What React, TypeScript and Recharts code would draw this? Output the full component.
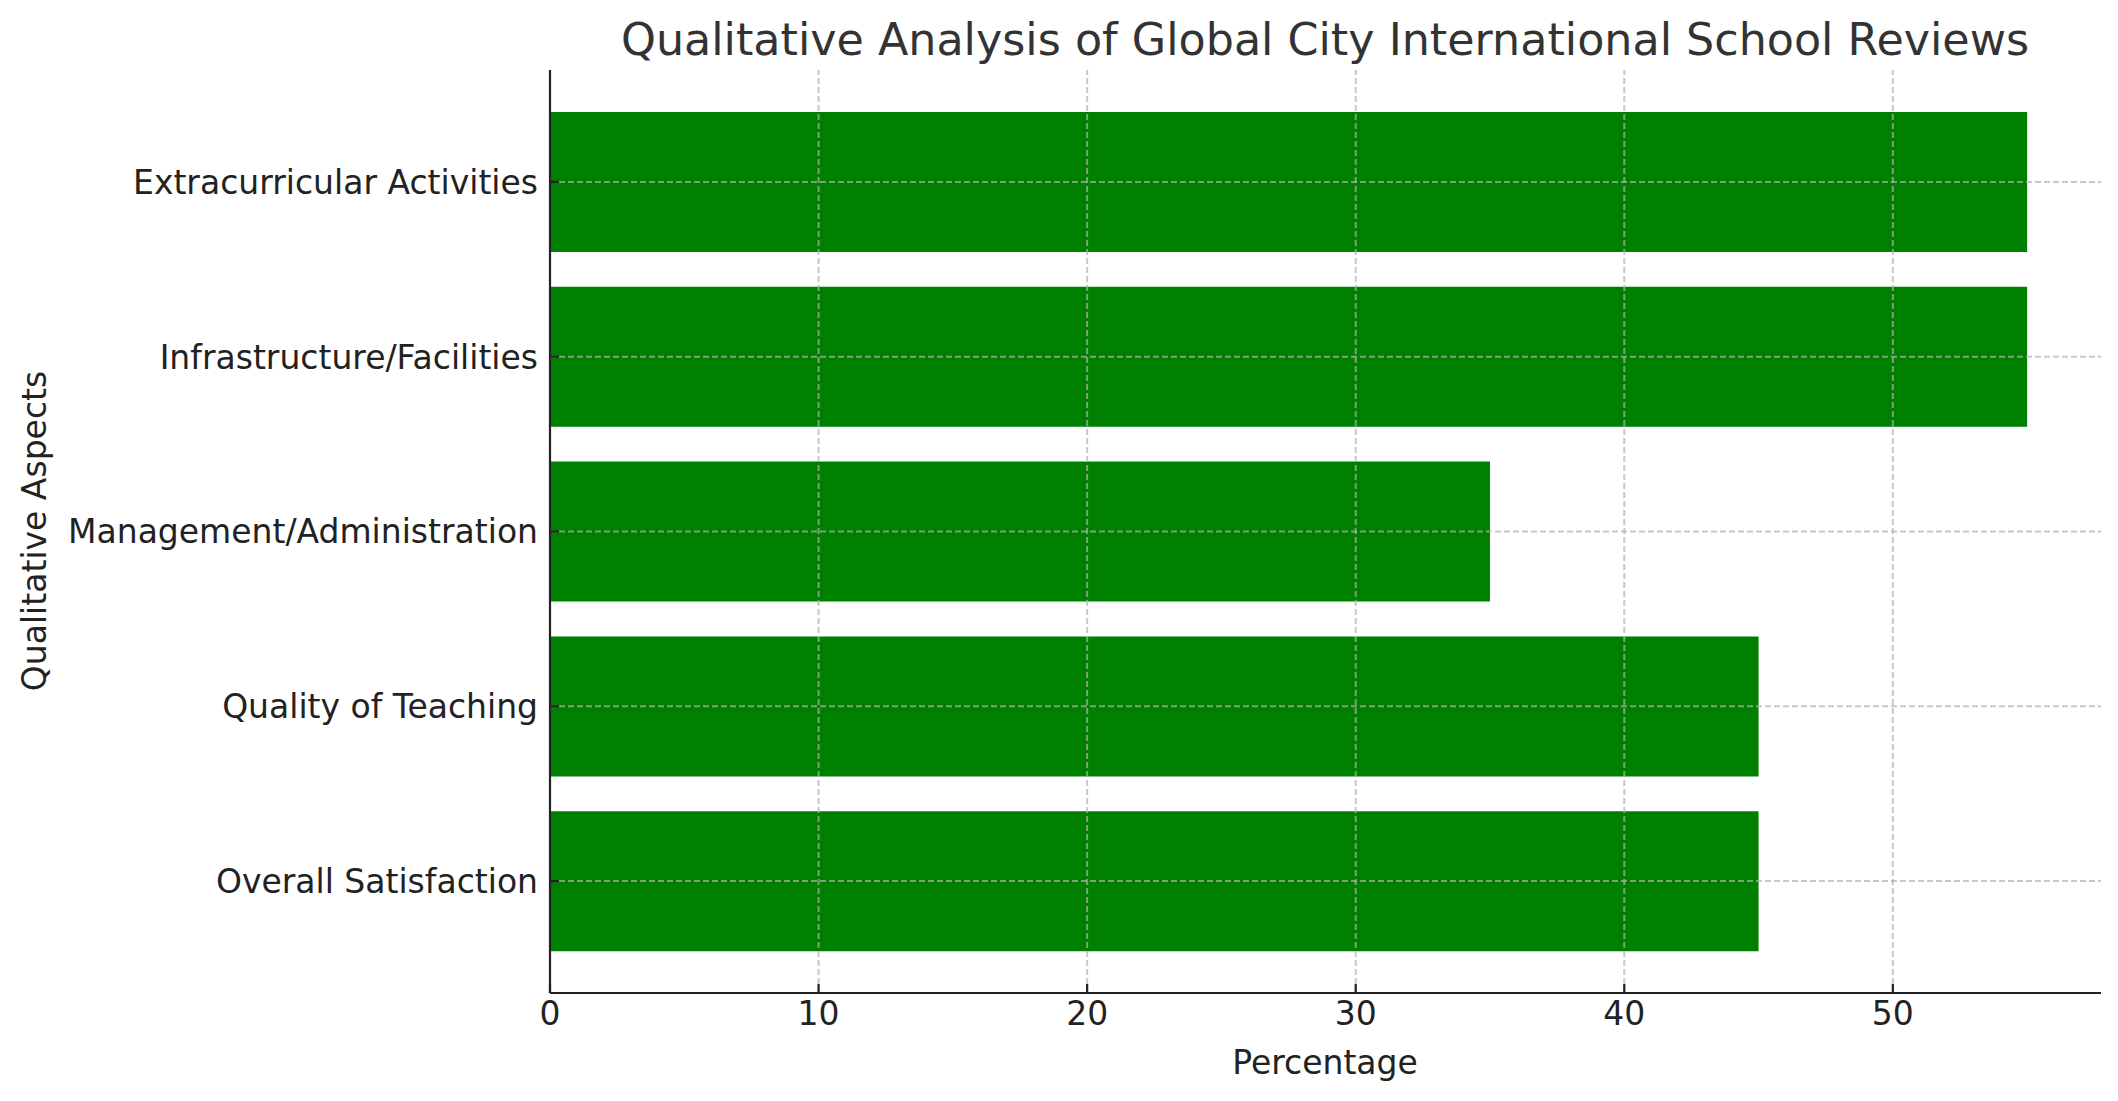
import React from "react";
import {
  BarChart,
  Bar,
  XAxis,
  YAxis,
  ReferenceLine,
  Label,
} from "recharts";

const aspects = [
  "Extracurricular Activities",
  "Infrastructure/Facilities",
  "Management/Administration",
  "Quality of Teaching",
  "Overall Satisfaction",
];
const percentages = [55, 55, 35, 45, 45];
const xTicks = [0, 10, 20, 30, 40, 50];

const data = aspects.map((name, i) => ({ name, value: percentages[i] }));

const FONT = "'DejaVu Sans', sans-serif";
const TEXT = "#222222";
const TICK_MARGIN_X = 8;
const TICK_MARGIN_Y = 12;
const TICK_LEN = 9;
const gridStyle = {
  stroke: "#b0b0b0",
  strokeOpacity: 0.7,
  strokeWidth: 2,
  strokeDasharray: "6 3",
};

const XTick = (props: any) => {
  const { x, y, payload } = props;
  const axisY = y - TICK_MARGIN_X;
  return (
    <g>
      <line x1={x} x2={x} y1={axisY} y2={axisY - TICK_LEN} stroke={TEXT} strokeWidth={2.2} />
      <text x={x} y={y} dy="0.73em" textAnchor="middle" fontSize={33} fontFamily={FONT} fill={TEXT}>
        {payload.value}
      </text>
    </g>
  );
};

const YTick = (props: any) => {
  const { x, y, payload } = props;
  const axisX = x + TICK_MARGIN_Y;
  return (
    <g>
      <line x1={axisX} x2={axisX + TICK_LEN} y1={y} y2={y} stroke={TEXT} strokeWidth={2.2} />
      <text x={x} y={y} dy="0.36em" textAnchor="end" fontSize={33} fontFamily={FONT} fill={TEXT}>
        {payload.value}
      </text>
    </g>
  );
};

const App: React.FC = () => (
  <div style={{ position: "absolute", left: 0, top: 0, width: 2118, height: 1101, background: "#fff" }}>
    <svg width={2118} height={70} style={{ position: "absolute", left: 0, top: 0 }}>
      <text x={1325} y={55} textAnchor="middle" fontSize={44.4} fontFamily={FONT} fill="#333333">
        Qualitative Analysis of Global City International School Reviews
      </text>
    </svg>
    <div style={{ position: "absolute", left: 0, top: 0 }}>
      <BarChart
        layout="vertical"
        width={2118}
        height={1101}
        data={data}
        margin={{ top: 70, right: 17, bottom: 48, left: 50 }}
        barCategoryGap="10%"
      >
        <XAxis
          type="number"
          domain={[0, 57.75]}
          ticks={xTicks}
          allowDataOverflow
          height={60}
          tickSize={0}
          tickMargin={TICK_MARGIN_X}
          tickLine={false}
          tick={<XTick />}
          axisLine={{ stroke: TEXT, strokeWidth: 2.2 }}
        >
          <Label
            content={() => (
              <text x={1325} y={1062} dy="0.36em" textAnchor="middle" fontSize={33} fontFamily={FONT} fill={TEXT}>
                Percentage
              </text>
            )}
          />
        </XAxis>
        <YAxis
          type="category"
          dataKey="name"
          width={500}
          padding={{ top: 24.5, bottom: 24.5 }}
          tickSize={0}
          tickMargin={TICK_MARGIN_Y}
          tickLine={false}
          tick={<YTick />}
          interval={0}
          axisLine={{ stroke: TEXT, strokeWidth: 2.2 }}
        >
          <Label
            content={() => (
              <text
                x={34}
                y={531}
                dy="0.36em"
                textAnchor="middle"
                transform="rotate(-90 34 531)"
                fontSize={33}
                fontFamily={FONT}
                fill={TEXT}
              >
                Qualitative Aspects
              </text>
            )}
          />
        </YAxis>
        <Bar dataKey="value" fill="#008000" isAnimationActive={false} />
        {xTicks.slice(1).map((t) => (
          <ReferenceLine key={`x${t}`} x={t} {...gridStyle} />
        ))}
        {aspects.map((a) => (
          <ReferenceLine key={a} y={a} {...gridStyle} />
        ))}
      </BarChart>
    </div>
  </div>
);

export default App;
